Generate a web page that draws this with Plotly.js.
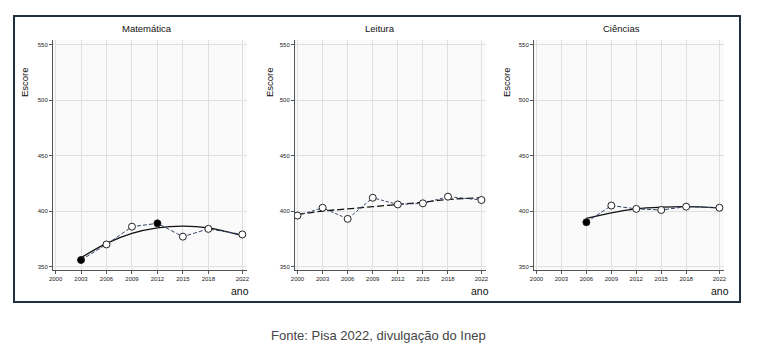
<!DOCTYPE html>
<html>
<head>
<meta charset="utf-8">
<script src="https://cdn.plot.ly/plotly-3.0.1.min.js"></script>
<style>html,body{margin:0;padding:0;background:#fff;}#chart{width:768px;height:357px;}</style>
</head>
<body>
<div id="chart"></div>
<script>
// Data
const yearTicks = [2000, 2003, 2006, 2009, 2012, 2015, 2018, 2022];
const panelTitles = ["Matemática", "Leitura", "Ciências"];

const matYears = [2003, 2006, 2009, 2012, 2015, 2018, 2022];
const matScores = [356, 370, 386, 389, 377, 384, 379];
const matFilled = [true, false, false, true, false, false, false];
const matTrend = [358, 371, 380, 385, 386.5, 385, 378];

const leiYears = [2000, 2003, 2006, 2009, 2012, 2015, 2018, 2022];
const leiScores = [396, 403, 393, 412, 406, 407, 413, 410];
const leiFilled = [false, false, false, false, false, false, false, false];
const leiTrend = [397, 400, 402, 404, 406, 408, 410.5, 412];

const cieYears = [2006, 2009, 2012, 2015, 2018, 2022];
const cieScores = [390, 405, 402, 401, 404, 403];
const cieFilled = [true, false, false, false, false, false];
const cieTrend = [393.5, 398.5, 402, 403.5, 404, 403];

const W = 768, H = 357;
const px = v => v / W;
const py = v => (H - v) / H;

const panels = [
  {years: matYears, scores: matScores, filled: matFilled, trend: matTrend, trendDash: 'solid', dataDash: '4px,2px', x0: 53, x1: 247, titleX: 147, escX: 25, anoX: 240},
  {years: leiYears, scores: leiScores, filled: leiFilled, trend: leiTrend, trendDash: '7px,3px', dataDash: '3px,2px', x0: 295, x1: 486, titleX: 380, escX: 270, anoX: 480},
  {years: cieYears, scores: cieScores, filled: cieFilled, trend: cieTrend, trendDash: 'solid', dataDash: '4px,2px', x0: 534, x1: 724, titleX: 621, escX: 507, anoX: 720}
];

const traces = [];
const layout = {
  width: W, height: H,
  margin: {l: 0, r: 0, t: 0, b: 0},
  paper_bgcolor: '#ffffff',
  plot_bgcolor: '#fafafa',
  showlegend: false,
  font: {family: 'Arial', color: '#111'},
  annotations: [],
  shapes: []
};

panels.forEach((p, i) => {
  const n = i === 0 ? '' : String(i + 1);
  const xa = 'x' + n, ya = 'y' + n;
  traces.push({
    x: p.years, y: p.trend, xaxis: xa, yaxis: ya,
    mode: 'lines', line: {color: '#111', width: 1.3, shape: 'spline', dash: p.trendDash},
    hoverinfo: 'skip'
  });
  traces.push({
    x: p.years, y: p.scores, xaxis: xa, yaxis: ya,
    mode: 'lines+markers',
    line: {color: '#34466a', width: 1, dash: p.dataDash},
    marker: {size: 7, color: p.filled.map(f => f ? '#000' : '#fff'), line: {color: '#222', width: 1}}
  });
  const axCommon = {
    showline: true, linecolor: '#555', linewidth: 1,
    ticks: 'outside', ticklen: 3, tickcolor: '#555',
    showgrid: true, gridcolor: '#e0e0e0', gridwidth: 1,
    zeroline: false, tickfont: {size: 6, color: '#222'}
  };
  layout['xaxis' + n] = Object.assign({}, axCommon, {
    domain: [px(p.x0), px(p.x1)], anchor: ya,
    range: [1999.7, 2022.55], tickvals: yearTicks, ticktext: yearTicks.map(String)
  });
  layout['yaxis' + n] = Object.assign({}, axCommon, {
    domain: [py(270), py(40)], anchor: xa,
    range: [347, 554], tickvals: [350, 400, 450, 500, 550]
  });
  layout.annotations.push({
    text: panelTitles[i], xref: 'paper', yref: 'paper',
    x: px(p.titleX), y: py(28), xanchor: 'center', yanchor: 'middle',
    showarrow: false, font: {size: 9.5, color: '#111'}
  });
  layout.annotations.push({
    text: 'Escore', xref: 'paper', yref: 'paper', textangle: -90,
    x: px(p.escX), y: py(82), xanchor: 'center', yanchor: 'middle',
    showarrow: false, font: {size: 9.5, color: '#111'}
  });
  layout.annotations.push({
    text: 'ano', xref: 'paper', yref: 'paper',
    x: px(p.anoX), y: py(291), xanchor: 'center', yanchor: 'middle',
    showarrow: false, font: {size: 10.5, color: '#111'}
  });
});

layout.annotations.push({
  text: 'Fonte: Pisa 2022, divulgação do Inep', xref: 'paper', yref: 'paper',
  x: px(378), y: py(335), xanchor: 'center', yanchor: 'middle',
  showarrow: false, font: {size: 13, color: '#444'}
});

layout.shapes.push({
  type: 'rect', xref: 'paper', yref: 'paper',
  x0: px(14), x1: px(740), y0: py(302), y1: py(16),
  line: {color: '#1f3040', width: 2}, fillcolor: 'rgba(0,0,0,0)', layer: 'below'
});

Plotly.newPlot('chart', traces, layout, {staticPlot: true, displayModeBar: false});
</script>
</body>
</html>
